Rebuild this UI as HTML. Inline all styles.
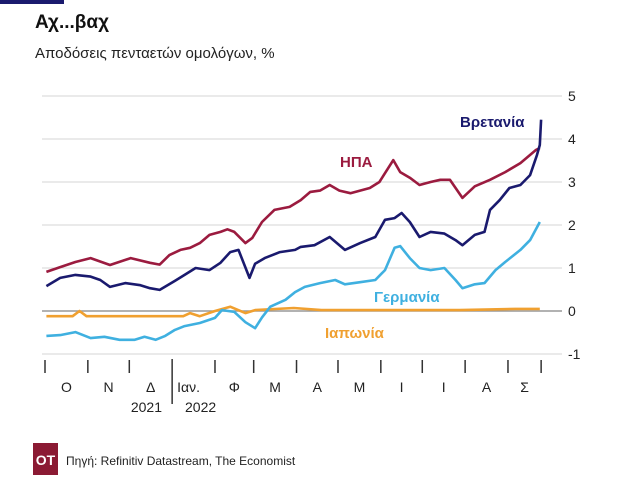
<!DOCTYPE html>
<html><head><meta charset="utf-8"><style>
body{margin:0;background:#fff;width:624px;height:493px;overflow:hidden;font-family:"Liberation Sans","DejaVu Sans",sans-serif;}
svg text{font-family:"Liberation Sans","DejaVu Sans",sans-serif;}
</style></head><body>
<svg width="624" height="493" viewBox="0 0 624 493">
<rect x="0" y="0" width="64" height="4" fill="#1a1a6e"/>
<text x="35" y="28" font-size="19" font-weight="bold" fill="#111">Αχ...βαχ</text>
<text x="35" y="58" font-size="15" fill="#222">Αποδόσεις πενταετών ομολόγων, %</text>
<g id="grid"></g>
<g id="series"></g>
<g id="xaxis"></g>
<text x="460" y="127" font-size="15" font-weight="bold" fill="#1a1a6e">Βρετανία</text>
<text x="340" y="167" font-size="15" font-weight="bold" fill="#9b1b3f">ΗΠΑ</text>
<text x="374" y="302" font-size="15" font-weight="bold" fill="#3fb0e0">Γερμανία</text>
<text x="325" y="338" font-size="15" font-weight="bold" fill="#f0a030">Ιαπωνία</text>
<rect x="33" y="443" width="25" height="32" fill="#8b1a33"/>
<text x="45.5" y="465" font-size="14" font-weight="bold" fill="#fff" text-anchor="middle">OT</text>
<text x="66" y="465" font-size="12" fill="#222">Πηγή: Refinitiv Datastream, The Economist</text>
</svg>
<script>
const yTicks=[5,4,3,2,1,0,-1];
const monthDays=[0,31,61,92,123,151,182,212,243,273,304,335,359];
const monthLabels=["Ο","Ν","Δ","Ιαν.","Φ","Μ","Α","Μ","Ι","Ι","Α","Σ"];
const usDays=[1,11,22,33,47,62,76,83,90,98,105,112,119,127,132,137,145,150,157,166,177,185,192,199,206,213,221,235,242,252,257,264,271,279,286,293,302,311,322,333,344,355,358];
const usVals=[.91,1.02,1.14,1.23,1.07,1.23,1.12,1.08,1.3,1.42,1.47,1.58,1.77,1.84,1.9,1.84,1.58,1.7,2.07,2.35,2.42,2.58,2.77,2.8,2.93,2.8,2.74,2.86,3.0,3.51,3.23,3.1,2.93,3.0,3.05,3.05,2.63,2.9,3.05,3.23,3.44,3.74,3.79];
const ukDays=[1,11,22,33,40,47,58,69,76,83,94,101,109,119,127,134,140,148,152,159,170,181,185,195,206,217,228,239,246,253,258,264,271,279,289,297,302,311,318,322,329,336,344,351,356,358,359];
const ukVals=[.58,.77,.84,.8,.72,.56,.65,.6,.53,.49,.7,.84,1.0,.95,1.12,1.37,1.42,.77,1.1,1.23,1.37,1.42,1.49,1.53,1.72,1.42,1.58,1.72,2.12,2.16,2.28,2.07,1.72,1.84,1.8,1.65,1.53,1.77,1.84,2.35,2.58,2.86,2.93,3.16,3.63,3.86,4.45];
const deDays=[1,11,22,33,43,54,65,72,80,87,94,101,112,123,128,137,145,152,157,163,174,181,188,199,210,217,228,239,246,253,257,264,271,279,289,297,302,311,318,326,333,344,351,358];
const deVals=[-.58,-.56,-.49,-.63,-.6,-.67,-.67,-.6,-.67,-.58,-.44,-.35,-.28,-.16,.02,-.02,-.26,-.4,-.15,.1,.26,.44,.56,.65,.72,.62,.67,.72,.95,1.47,1.51,1.23,1.0,.95,1.0,.72,.53,.62,.65,.95,1.14,1.42,1.65,2.07];
const jpDays=[1,20,25,30,100,105,112,123,134,145,152,180,200,250,300,340,358];
const jpVals=[-.12,-.12,0,-.12,-.12,-.05,-.12,0,.1,-.05,.02,.07,.02,.02,.02,.05,.05];

const NS="http://www.w3.org/2000/svg";
function xS(d){return 45+1.382*d;}
function yS(v){return 311-43*v;}
function mk(tag,attrs,parent){const e=document.createElementNS(NS,tag);for(const k in attrs)e.setAttribute(k,attrs[k]);parent.appendChild(e);return e;}
const grid=document.getElementById('grid');
yTicks.forEach(v=>{
  const l=mk('line',{x1:42,x2:562,y1:yS(v),y2:yS(v),stroke:v===0?'#999':'#d4d4d4','stroke-width':v===0?1.5:1},grid);
  
  
  const t=mk('text',{x:568,y:yS(v)+5,'font-size':14,fill:'#222'},grid);
  t.textContent=String(v);
  
  
});
const xa=document.getElementById('xaxis');
monthDays.forEach((d,i)=>{
  const isYear=(i===3);
  const l=mk('line',{x1:xS(d),x2:xS(d),y1:isYear?359:360,y2:isYear?404:373,stroke:'#333','stroke-width':1.5},xa);
  
  
  if(i<monthLabels.length){
    const mid=(xS(d)+xS(monthDays[i+1]))/2;
    const t=mk('text',{x:isYear?xS(d)+5:mid,y:392,'font-size':14,fill:'#222','text-anchor':isYear?'start':'middle'},xa);
    t.textContent=monthLabels[i];
    
    
  }
});
const y1=mk('text',{x:162,y:412,'font-size':14,fill:'#222','text-anchor':'end'},xa);
y1.textContent='2021';


const y2=mk('text',{x:185,y:412,'font-size':14,fill:'#222'},xa);
y2.textContent='2022';



const sg=document.getElementById('series');
function line(days,vals,color,name){
  const pts=days.map((d,i)=>xS(d).toFixed(1)+','+yS(vals[i]).toFixed(1)).join(' ');
  const p=mk('polyline',{points:pts,fill:'none',stroke:color,'stroke-width':2.6,'stroke-linejoin':'round'},sg);
  
  
}
line(jpDays,jpVals,'#f0a030','line-japan');
line(deDays,deVals,'#3fb0e0','line-germany');
line(usDays,usVals,'#9b1b3f','line-us');
line(ukDays,ukVals,'#1a1a6e','line-uk');
</script>
</body></html>
